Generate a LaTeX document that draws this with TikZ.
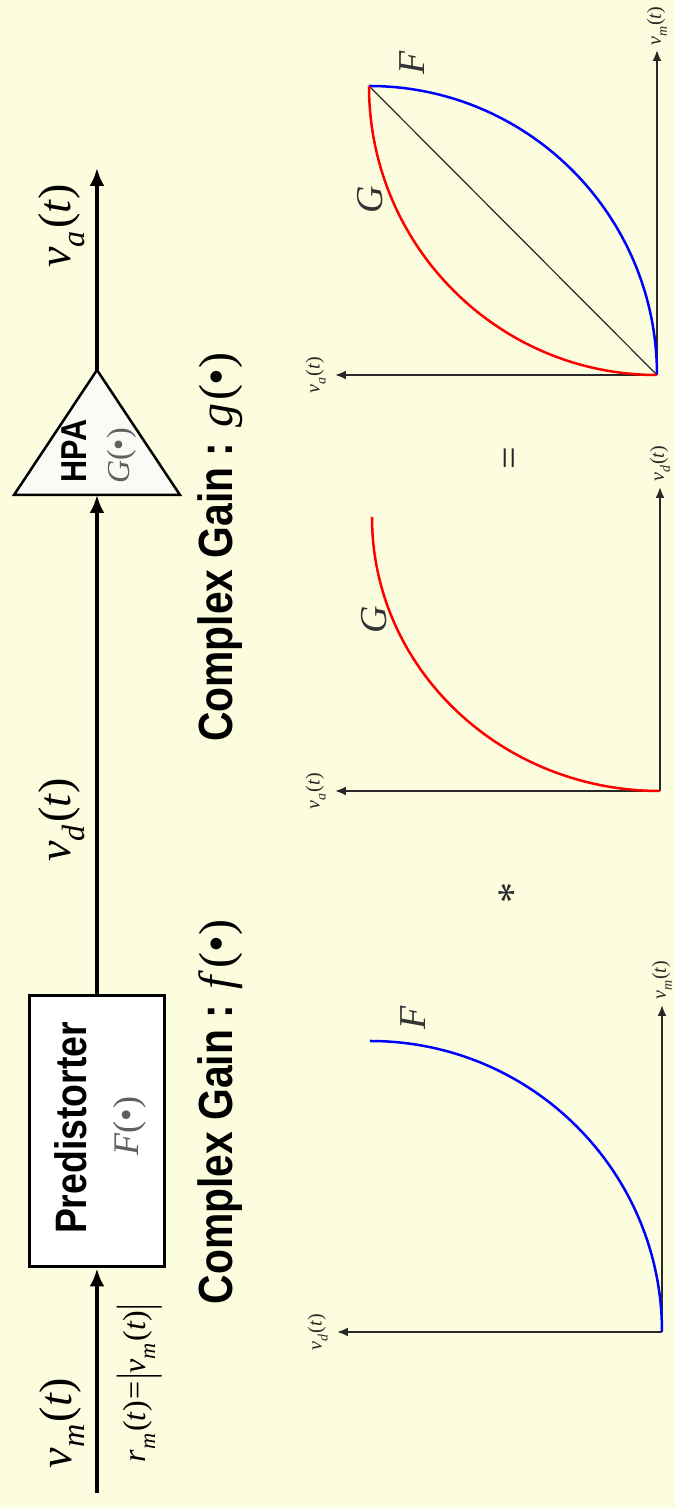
\documentclass[tikz,border=0pt]{standalone}
\usepackage{fontspec}
\usetikzlibrary{arrows.meta}
\setmainfont{Liberation Serif}
\newfontfamily\hsans[FakeStretch=0.85]{Liberation Sans}
\newfontfamily\tms{Liberation Serif}
\newcommand\lsub[1]{\raisebox{-0.3em}{\scalebox{0.7}{\itshape #1}}}
\newcommand\sigl[2]{\textit{#1}\lsub{#2}\kern0.05em(\textit{t})}
\newcommand\tallbar{\raisebox{-0.2em}{\scalebox{1}[1.55]{|}}}
\definecolor{bgyellow}{RGB}{252,252,222}
\definecolor{txtgray}{RGB}{95,95,95}
\definecolor{axgray}{RGB}{40,40,40}
\definecolor{cblue}{RGB}{0,0,255}
\definecolor{cred}{RGB}{255,0,0}
\definecolor{boxfill}{RGB}{250,250,246}
\begin{document}
\begin{tikzpicture}[x=1pt,y=1pt,rotate=90,transform shape,
  sig/.style={line width=3.5pt,-{Latex[length=18pt,width=15pt]}},
  axis/.style={line width=2pt,draw=axgray,-{Latex[length=11pt,width=9pt]}},
  fcurve/.style={line width=2.5pt,draw=cblue},
  gcurve/.style={line width=2.5pt,draw=cred},
  diag/.style={line width=1.2pt,draw=axgray},
  pbox/.style={draw,line width=3pt,fill=white,minimum width=271pt,minimum height=135pt,inner sep=0pt},
  tri/.style={draw,line width=2.5pt,fill=boxfill,line join=miter},
  blk/.style={font=\hsans\bfseries\fontsize{44}{48}\selectfont,inner sep=0pt},
  blksmall/.style={font=\hsans\bfseries\fontsize{36}{40}\selectfont,inner sep=0pt},
  fn/.style={text=txtgray,font=\tms\fontsize{36}{40}\selectfont,inner sep=0pt},
  siglab/.style={font=\tms\fontsize{46}{50}\selectfont,inner sep=0pt},
  rlab/.style={font=\tms\fontsize{32}{36}\selectfont,inner sep=0pt},
  axlab/.style={font=\tms\fontsize{20}{24}\selectfont,inner sep=1pt,text=axgray},
  curvlab/.style={font=\tms\itshape\fontsize{38}{40}\selectfont,inner sep=0pt,text=black!80},
  gain/.style={font=\hsans\bfseries\fontsize{48}{52}\selectfont,inner sep=0pt},
  oplab/.style={font=\tms\fontsize{42}{46}\selectfont,inner sep=0pt,text=black!85},
]
\fill[bgyellow] (0,0) rectangle (1508,675);
\useasboundingbox (0,0) rectangle (1508,675);

% ---------- block diagram ----------
\node[pbox] (pred) at (376.5,578) {};
\node[blk] (predtxt) at (380,604) {Predistorter};
\node[fn] (predfn) at (382,545) {\textit{F}(•)};

\coordinate (hb1) at (1013,661);
\coordinate (hb2) at (1013,495);
\coordinate (hpain) at (1013,578);
\coordinate (hpaout) at (1138,578);
\draw[tri] (hb1) -- (hpaout) -- (hb2) -- cycle;
\node[blksmall] (hpatxt) at (1057,601) {HPA};
\node[fn,font=\tms\fontsize{32}{36}\selectfont] (hpafn) at (1052,553) {\textit{G}(•)};

\coordinate (in) at (15,578);
\coordinate (out) at (1340,578);
\draw[sig] (in) -- (pred.west);
\draw[sig] (pred.east) -- (hpain);
\draw[sig] (hpaout) -- (out);

\node[siglab] (vm) at (85,613) {\sigl{v}{m}};
\node[rlab] (rm) at (125,535) {\sigl{r}{m}\kern0.05em=\kern0.05em\tallbar\sigl{v}{m}\tallbar};
\node[siglab] (vd) at (688,613) {\sigl{v}{d}};
\node[siglab] (va) at (1282,613) {\sigl{v}{a}};

\node[gain] (gf) at (396,455) {Complex Gain : {\tms\mdseries\textit{f}\kern0.05em(•)}};
\node[gain] (gg) at (961,455) {Complex Gain : {\tms\mdseries\textit{g}\kern0.05em(•)}};

% ---------- graph 1 ----------
\coordinate (o1) at (176,13);
\coordinate (x1) at (503,13);
\coordinate (y1) at (176,338);
\draw[axis] (o1) -- (x1);
\draw[axis] (o1) -- (y1);
\draw[fcurve] (o1) arc[start angle=-90,end angle=0,x radius=291,y radius=292];
\node[curvlab] (F1) at (490,262) {F};
\node[axlab,anchor=south] (ly1) at (176,346) {\sigl{v}{d}};
\node[axlab,anchor=west] (lx1) at (507,13) {\sigl{v}{m}};

\node[oplab] (star) at (615,162) {*};

% ---------- graph 2 ----------
\coordinate (o2) at (717,15);
\coordinate (x2) at (1021,15);
\coordinate (y2) at (717,340);
\draw[axis] (o2) -- (x2);
\draw[axis] (o2) -- (y2);
\draw[gcurve] (o2) arc[start angle=180,end angle=90,x radius=274,y radius=288];
\node[curvlab] (G2) at (888,301) {G};
\node[axlab,anchor=south] (ly2) at (717,348) {\sigl{v}{a}};
\node[axlab,anchor=west] (lx2) at (1025,15) {\sigl{v}{d}};

\node[oplab,font=\tms\fontsize{40}{44}\selectfont] (eq) at (1050,162) {=};

% ---------- graph 3 ----------
\coordinate (o3) at (1133,18);
\coordinate (x3) at (1458,18);
\coordinate (y3) at (1133,340);
\coordinate (t3) at (1422,306);
\draw[axis] (o3) -- (x3);
\draw[axis] (o3) -- (y3);
\draw[diag] (o3) -- (t3);
\draw[fcurve] (o3) arc[start angle=-90,end angle=0,x radius=289,y radius=288];
\draw[gcurve] (o3) arc[start angle=180,end angle=90,x radius=289,y radius=288];
\node[curvlab] (G3) at (1308,305) {G};
\node[curvlab] (F3) at (1445,263) {F};
\node[axlab,anchor=south] (ly3) at (1133,348) {\sigl{v}{a}};
\node[axlab,anchor=west] (lx3) at (1461,18) {\sigl{v}{m}};
\end{tikzpicture}
\end{document}
